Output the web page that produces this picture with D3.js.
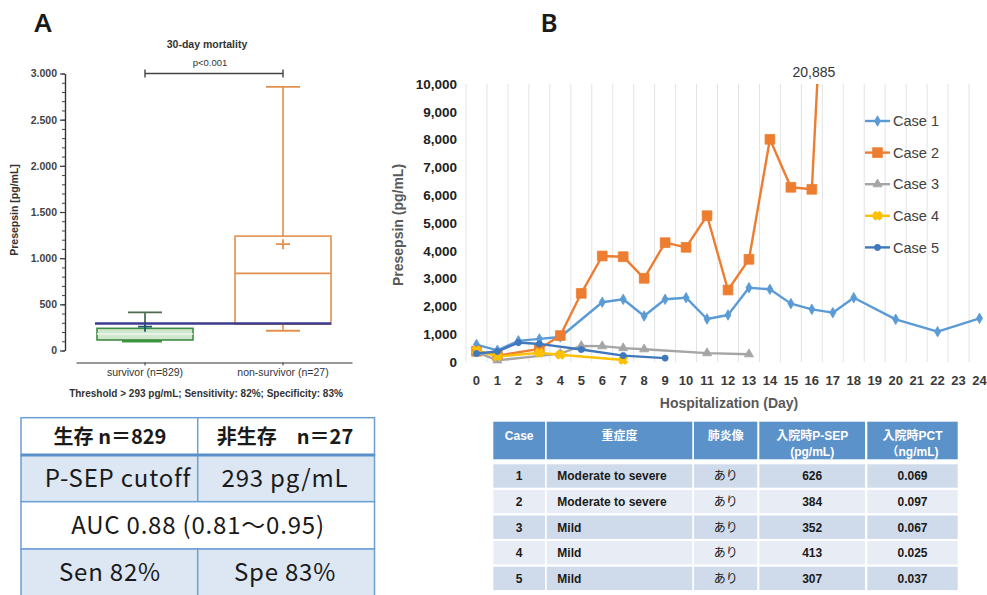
<!DOCTYPE html>
<html><head><meta charset="utf-8">
<script src="https://cdn.jsdelivr.net/npm/d3@7"></script>
<style>body{margin:0;background:#fff}svg{display:block}</style>
</head><body>
<script>
// ---------- Panel A data ----------
const groupsA = ["survivor (n=829)", "non-survivor (n=27)"];
const boxMin = [103, 214];
const boxQ1 = [114, 285];
const boxMedian = [178, 835];
const boxQ3 = [240, 1239];
const boxMax = [413, 2855];
const boxMean = [258, 1152];
const thresholdA = 293;
const yTicksA = [0, 500, 1000, 1500, 2000, 2500, 3000];
const tableAHeader = ["生存 n＝829", "非生存　n＝27"];
const tableACutoff = ["P-SEP cutoff", "293 pg/mL"];
const tableAAuc = ["AUC 0.88 (0.81～0.95)"];
const tableASenSpe = ["Sen 82%", "Spe 83%"];

// ---------- Panel B data ----------
const days = [0,1,2,3,4,5,6,7,8,9,10,11,12,13,14,15,16,17,18,19,20,21,22,23,24];
const caseNames = ["Case 1", "Case 2", "Case 3", "Case 4", "Case 5"];
const case1 = [626, 420, 760, 830, 900, null, 2150, 2255, 1655, 2255, 2313, 1547, 1691, 2673, 2615, 2100, 1895, 1775, 2313, null, 1535, null, 1091, null, 1571];
const case2 = [384, 230, null, 470, 950, 2470, 3813, 3788, 3010, 4292, 4125, 5263, 2590, 3693, 8010, 6284, 6212, 20885, null, null, null, null, null, null, null];
const case3 = [352, 60, null, null, 300, 580, 570, 500, 460, null, null, 320, null, 280, null, null, null, null, null, null, null, null, null, null, null];
const case4 = [413, 200, null, 330, 260, null, null, 70, null, null, null, null, null, null, null, null, null, null, null, null, null, null, null, null, null];
const case5 = [307, 380, 700, 650, null, 450, null, 230, null, 140, null, null, null, null, null, null, null, null, null, null, null, null, null, null, null];
const yTicksB = [0,1000,2000,3000,4000,5000,6000,7000,8000,9000,10000];
const peakLabel = "20,885";

// ---------- Table B data ----------
const tableBHeader = [["Case"], ["重症度"], ["肺炎像"], ["入院時P-SEP", "(pg/mL)"], ["入院時PCT", "（ng/mL)"]];
const caseIds = ["1", "2", "3", "4", "5"];
const severity = ["Moderate to severe", "Moderate to severe", "Mild", "Mild", "Mild"];
const pneumonia = ["あり", "あり", "あり", "あり", "あり"];
const psepAdmission = [626, 384, 352, 413, 307];
const pctAdmission = ["0.069", "0.097", "0.067", "0.025", "0.037"];

const svg = d3.select("body").append("svg").attr("width", 987).attr("height", 595)
  .style("font-family", "'Liberation Sans', Arial, sans-serif");

// panel letters
svg.append("text").attr("x", 43).attr("y", 32).attr("text-anchor", "middle")
  .style("font-family", "'Noto Sans', sans-serif").style("font-size", "26px").style("font-weight", "600").attr("fill", "#1a1a1a").text("A");
svg.append("text").attr("x", 549).attr("y", 32).attr("text-anchor", "middle")
  .style("font-family", "'Noto Sans', sans-serif").style("font-size", "26px").style("font-weight", "600").attr("fill", "#1a1a1a").text("B");

// ================= Panel A box plot =================
const fmtEU = d3.formatLocale({decimal: ",", thousands: ".", grouping: [3], currency: ["", ""]}).format(",d");
const xA = d3.scaleBand().domain(groupsA).range([76, 352]);
const yA = d3.scaleLinear().domain([0, 3000]).range([350.5, 73.5]);
const gA = svg.append("g");

const yAxA = gA.append("g").attr("transform", "translate(65,0)")
  .call(d3.axisLeft(yA).tickValues(yTicksA).tickFormat(fmtEU).tickSize(5).tickSizeOuter(0).tickPadding(3));
yAxA.select(".domain").attr("stroke", "#333").attr("stroke-width", 1.4);
yAxA.selectAll(".tick line").attr("stroke", "#333").attr("stroke-width", 1.2);
yAxA.selectAll("text").style("font-size", "10.5px").style("font-weight", "bold").attr("fill", "#444");
const minorA = gA.append("g").attr("transform", "translate(65,0)")
  .call(d3.axisLeft(yA).tickValues(d3.range(0, 3001, 100)).tickSize(3).tickFormat(""));
minorA.select(".domain").remove();
minorA.selectAll(".tick line").attr("stroke", "#444");

const xAxA = gA.append("g").attr("transform", "translate(0,362.5)")
  .call(d3.axisBottom(xA).tickSize(3).tickSizeOuter(0).tickPadding(3));
xAxA.select(".domain").attr("stroke", "#333").attr("stroke-width", 1.2);
xAxA.selectAll(".tick line").attr("stroke", "#333");
xAxA.selectAll("text").style("font-size", "10.5px").attr("fill", "#333");

gA.append("text").attr("transform", "translate(18,210) rotate(-90)").attr("text-anchor", "middle")
  .style("font-size", "10.5px").style("font-weight", "bold").attr("fill", "#333").text("Presepsin [pg/mL]");
gA.append("text").attr("x", 207).attr("y", 48).attr("text-anchor", "middle")
  .style("font-size", "10.5px").style("font-weight", "bold").attr("fill", "#333").text("30-day mortality");
gA.append("text").attr("x", 210).attr("y", 66).attr("text-anchor", "middle")
  .style("font-size", "9.5px").attr("fill", "#333").text("p<0.001");
gA.append("text").attr("x", 206).attr("y", 397).attr("text-anchor", "middle")
  .style("font-size", "10px").style("font-weight", "bold").attr("fill", "#333")
  .text("Threshold > 293 pg/mL; Sensitivity: 82%; Specificity: 83%");

// bracket
const cA = groupsA.map(g => xA(g) + xA.bandwidth() / 2);
const by = yA(3000);
gA.append("path").attr("d", `M${cA[0]},${by - 4}V${by + 4}M${cA[0]},${by}H${cA[1]}M${cA[1]},${by - 4}V${by + 4}`)
  .attr("stroke", "#444").attr("stroke-width", 1.4).attr("fill", "none");

const boxStroke = ["#3f8c43", "#e2904f"];
const boxFill = ["#cfe8cd", "#ffffff"];
const boxW = 96, capW = 34;
groupsA.forEach((g, i) => {
  const cx = cA[i];
  const s = boxStroke[i];
  gA.append("line").attr("x1", cx).attr("x2", cx).attr("y1", yA(boxMax[i])).attr("y2", yA(boxQ3[i])).attr("stroke", i === 0 ? "#3b5f3d" : s).attr("stroke-width", 1.6);
  gA.append("line").attr("x1", cx).attr("x2", cx).attr("y1", yA(boxQ1[i])).attr("y2", yA(boxMin[i])).attr("stroke", i === 0 ? "#3b5f3d" : s).attr("stroke-width", 1.6);
  gA.append("line").attr("x1", cx - capW / 2).attr("x2", cx + capW / 2).attr("y1", yA(boxMax[i])).attr("y2", yA(boxMax[i])).attr("stroke", i === 0 ? "#4d6b4e" : s).attr("stroke-width", 1.8);
  gA.append("line").attr("x1", cx - capW / 2 - (i === 0 ? 6 : 0)).attr("x2", cx + capW / 2).attr("y1", yA(boxMin[i])).attr("y2", yA(boxMin[i])).attr("stroke", i === 0 ? "#3c9a40" : s).attr("stroke-width", i === 0 ? 3 : 1.8);
  gA.append("rect").attr("x", cx - boxW / 2).attr("y", yA(boxQ3[i])).attr("width", boxW).attr("height", yA(boxQ1[i]) - yA(boxQ3[i]))
    .attr("fill", boxFill[i]).attr("stroke", s).attr("stroke-width", 1.6);
  gA.append("line").attr("x1", cx - boxW / 2).attr("x2", cx + boxW / 2).attr("y1", yA(boxMedian[i])).attr("y2", yA(boxMedian[i]))
    .attr("stroke", i === 0 ? "#eef7ee" : s).attr("stroke-width", 1.6);
  const mc = i === 0 ? "#1f5a66" : s;
  gA.append("path").attr("d", `M${cx - 7},${yA(boxMean[i])}H${cx + 7}M${cx},${yA(boxMean[i]) - 5}V${yA(boxMean[i]) + 5}`)
    .attr("stroke", mc).attr("stroke-width", 1.8).attr("fill", "none");
});
gA.append("line").attr("x1", cA[0] - boxW / 2 - 2).attr("x2", cA[1] + boxW / 2)
  .attr("y1", yA(thresholdA)).attr("y2", yA(thresholdA)).attr("stroke", "#3d3b8e").attr("stroke-width", 2.6);

// ================= Table A =================
const tA = svg.append("g").style("font-family", "'Noto Sans CJK JP', 'Noto Sans', sans-serif");
const tAx0 = 21, tAx1 = 374.5, tAmid = 197.7;
const tArows = [tableAHeader, tableACutoff, tableAAuc, tableASenSpe];
const tAy = [417.7, 455, 501.7, 549, 596];
const tAbg = ["#ffffff", "#dde7f3", "#ffffff", "#dde7f3"];
const tAsize = [20, 24, 24, 24];
const tAls = [0, 0.8, 0.8, 0.8];
const tAcx = [[110, 285], [118, 285], [198], [110, 285]];
tArows.forEach((row, r) => {
  tA.append("rect").attr("x", tAx0).attr("y", tAy[r]).attr("width", tAx1 - tAx0).attr("height", tAy[r + 1] - tAy[r])
    .attr("fill", tAbg[r]).attr("stroke", "#6c9fd6").attr("stroke-width", 1.5);
  const cy = (tAy[r] + tAy[r + 1]) / 2;
  if (row.length === 2) {
    tA.append("line").attr("x1", tAmid).attr("x2", tAmid).attr("y1", tAy[r]).attr("y2", tAy[r + 1]).attr("stroke", "#6c9fd6").attr("stroke-width", 1.5);
  }
  row.forEach((t, j) => tA.append("text").attr("x", tAcx[r][j]).attr("y", cy).attr("dy", "0.36em").attr("text-anchor", "middle")
    .style("font-size", tAsize[r] + "px").style("letter-spacing", tAls[r] + "px").style("font-weight", r === 0 ? "bold" : "normal").attr("fill", "#1a1a1a").text(t));
});
tA.append("line").attr("x1", tAx0).attr("x2", tAx1).attr("y1", tAy[1]).attr("y2", tAy[1]).attr("stroke", "#5a8fcc").attr("stroke-width", 3);

// ================= Panel B line chart =================
const xB = d3.scaleBand().domain(days).range([466, 990]);
const cxB = d => xB(d) + xB.bandwidth() / 2;
const yB = d3.scaleLinear().domain([0, 10000]).range([362, 84]);
const gB = svg.append("g");

gB.append("g").selectAll("line").data(days.concat([25])).join("line")
  .attr("x1", d => d === 25 ? xB(24) + xB.bandwidth() : xB(d)).attr("x2", d => d === 25 ? xB(24) + xB.bandwidth() : xB(d))
  .attr("y1", 84).attr("y2", 362).attr("stroke", "#e3e3e3").attr("stroke-width", 1);

const yAxB = gB.append("g").attr("transform", "translate(461,0)")
  .call(d3.axisLeft(yB).tickValues(yTicksB).tickFormat(d3.format(",")).tickSize(0).tickPadding(4));
yAxB.select(".domain").remove();
yAxB.selectAll("text").style("font-size", "13.5px").style("font-weight", "bold").attr("fill", "#222");

const xAxB = gB.append("g").attr("transform", "translate(0,362)")
  .call(d3.axisBottom(xB).tickSize(0).tickPadding(14));
xAxB.select(".domain").remove();
xAxB.selectAll("text").style("font-size", "13px").style("font-weight", "bold").attr("fill", "#3a3a3a");

gB.append("text").attr("transform", "translate(403,225) rotate(-90)").attr("text-anchor", "middle")
  .style("font-size", "14px").style("font-weight", "bold").attr("fill", "#595959").text("Presepsin (pg/mL)");
gB.append("text").attr("x", 729).attr("y", 408).attr("text-anchor", "middle")
  .style("font-size", "14px").style("font-weight", "bold").attr("fill", "#595959").text("Hospitalization (Day)");

svg.append("clipPath").attr("id", "clipB").append("rect").attr("x", 460).attr("y", 84).attr("width", 530).attr("height", 300);

const series = [case1, case2, case3, case4, case5];
const colors = ["#5b9bd5", "#ed7d31", "#a5a5a5", "#ffc000", "#3f78bd"];
const symbols = [
  {type: d3.symbolDiamond, size: 32, rot: 0},
  {type: d3.symbolSquare, size: 95, rot: 0},
  {type: d3.symbolTriangle, size: 36, rot: 0},
  {type: d3.symbolCross, size: 40, rot: 45},
  {type: d3.symbolCircle, size: 30, rot: 0}
];
const lineGen = d3.line().x(d => cxB(d.day)).y(d => yB(d.v));
const plot = gB.append("g").attr("clip-path", "url(#clipB)");
series.forEach((vals, i) => {
  const pts = days.map((d, k) => ({day: d, v: vals[k]})).filter(p => p.v !== null);
  plot.append("path").datum(pts).attr("d", lineGen).attr("fill", "none")
    .attr("stroke", colors[i]).attr("stroke-width", 2.4).attr("stroke-linejoin", "round");
  plot.selectAll(null).data(pts.filter(p => p.v <= 10000)).join("path")
    .attr("d", d3.symbol().type(symbols[i].type).size(symbols[i].size))
    .attr("transform", p => `translate(${cxB(p.day)},${yB(p.v)}) rotate(${symbols[i].rot})`)
    .attr("fill", colors[i]).attr("stroke", colors[i]).attr("stroke-width", i === 3 ? 1.5 : 0.8);
});

gB.append("text").attr("x", cxB(16) + 2).attr("y", 77).attr("text-anchor", "middle")
  .style("font-size", "14px").attr("fill", "#333").text(peakLabel);

// legend
const leg = gB.append("g");
caseNames.forEach((n, i) => {
  const ly = 121 + i * 31.6;
  leg.append("line").attr("x1", 865).attr("x2", 890).attr("y1", ly).attr("y2", ly).attr("stroke", colors[i]).attr("stroke-width", 2.4);
  leg.append("path").attr("d", d3.symbol().type(symbols[i].type).size(symbols[i].size))
    .attr("transform", `translate(877.5,${ly}) rotate(${symbols[i].rot})`).attr("fill", colors[i]).attr("stroke", colors[i]).attr("stroke-width", i === 3 ? 1.5 : 0.8);
  leg.append("text").attr("x", 893).attr("y", ly).attr("dy", "0.36em").style("font-size", "14.5px").attr("fill", "#404040").text(n);
});

// ================= Table B =================
const tB = svg.append("g").style("font-family", "'Liberation Sans', Arial, 'Noto Sans CJK JP', sans-serif");
const colX = [493.3, 546.7, 694, 759.3, 867.3];
const colW = [51.7, 145.6, 63.3, 105.7, 90.4];
const headY = 421.7, headH = 37.6;
const rowY0 = 464.3, rowStep = 25.6, rowH = 23.4;
colX.forEach((x, j) => {
  tB.append("rect").attr("x", x).attr("y", headY).attr("width", colW[j]).attr("height", headH).attr("fill", "#5b92c9");
  tableBHeader[j].forEach((t, l) => tB.append("text").attr("x", x + colW[j] / 2).attr("y", 439.5 + l * 16).attr("text-anchor", "middle")
    .style("font-size", "12px").style("font-weight", "bold").attr("fill", "#fff").text(t));
});
const rowsB = caseIds.map((c, i) => [c, severity[i], pneumonia[i], String(psepAdmission[i]), pctAdmission[i]]);
rowsB.forEach((row, i) => {
  const y = rowY0 + i * rowStep;
  row.forEach((t, j) => {
    tB.append("rect").attr("x", colX[j]).attr("y", y).attr("width", colW[j]).attr("height", rowH)
      .attr("fill", i % 2 === 0 ? "#cfdbeb" : "#e8edf5");
    const left = j === 1;
    tB.append("text").attr("x", left ? 557.3 : colX[j] + colW[j] / 2).attr("y", y + rowH / 2).attr("dy", "0.36em")
      .attr("text-anchor", left ? "start" : "middle")
      .style("font-size", "12px").style("font-weight", j === 2 ? "normal" : "bold").attr("fill", "#1a1a1a").text(t);
  });
});
</script>
</body></html>
